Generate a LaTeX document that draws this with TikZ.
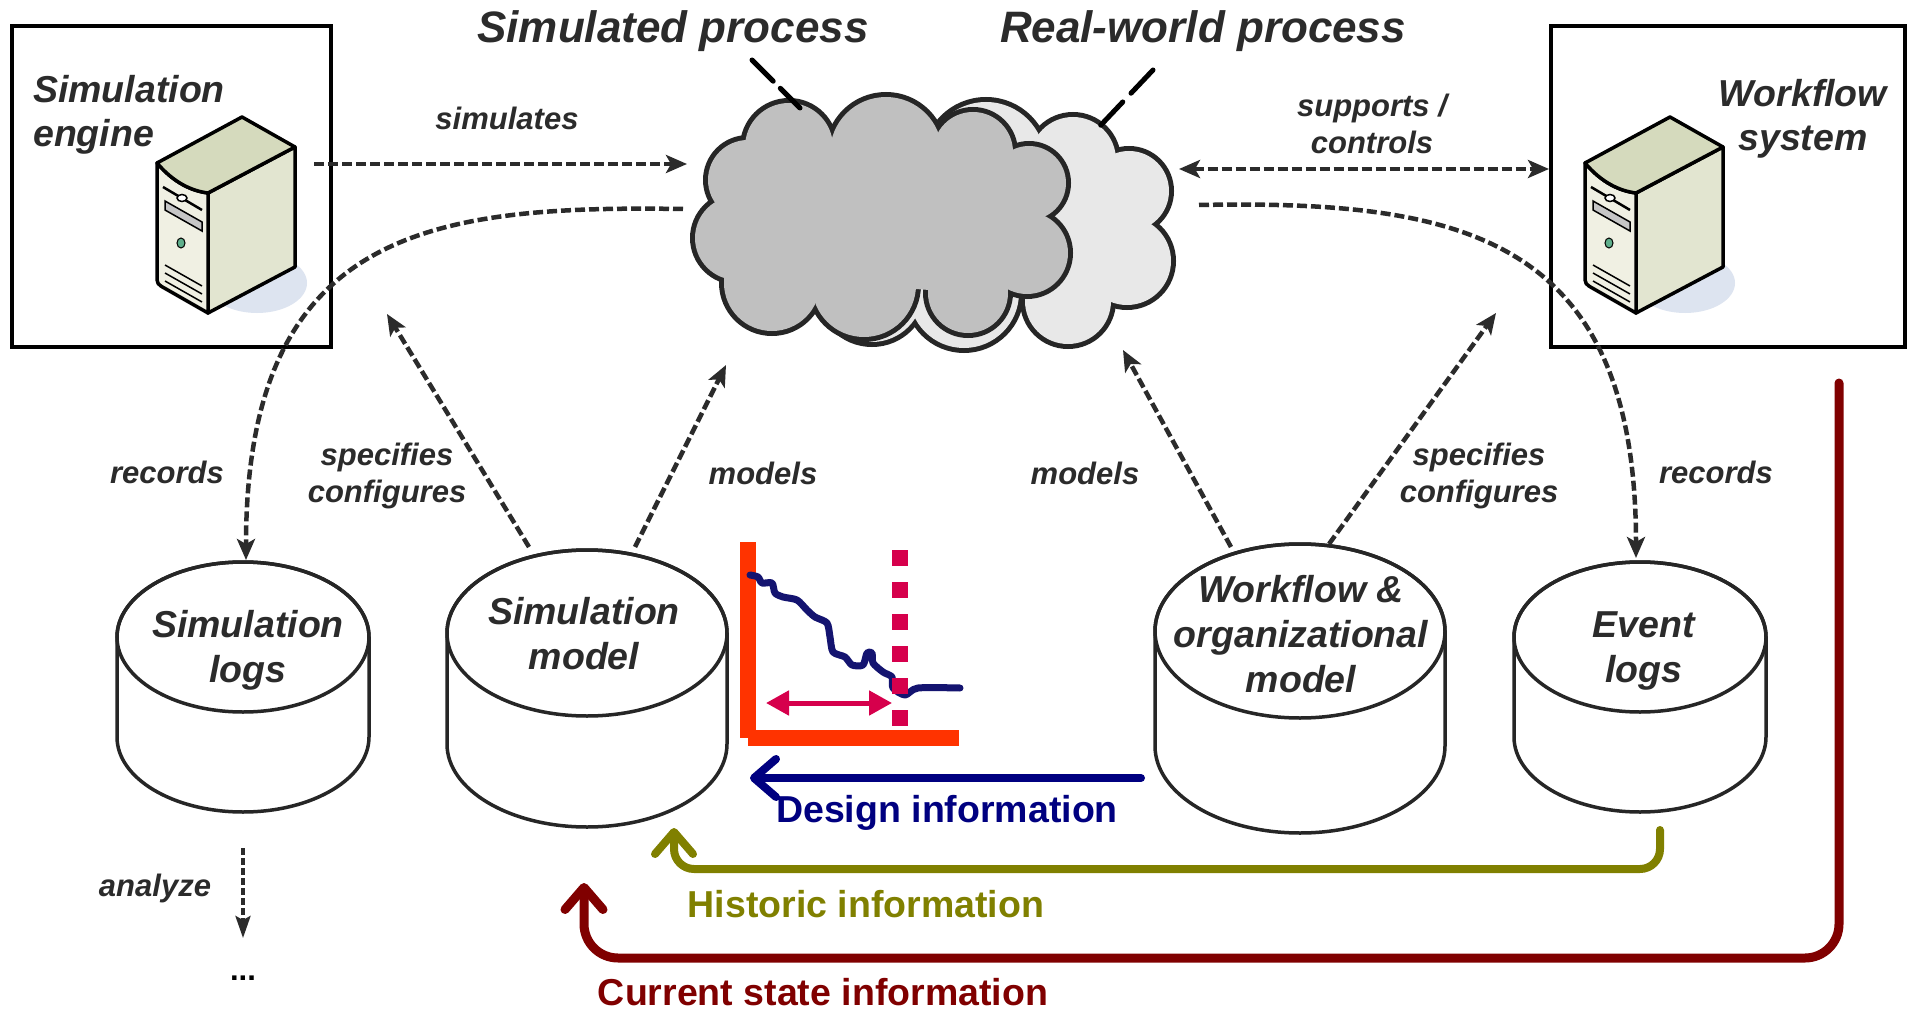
\documentclass[tikz,border=0pt]{standalone}
\usepackage{fontspec}
\setmainfont{Liberation Sans}
\usetikzlibrary{arrows.meta}

\definecolor{ink}{HTML}{2B2B2B}
\definecolor{cloudline}{HTML}{262626}
\definecolor{cloudsim}{HTML}{C0C0C0}
\definecolor{cloudreal}{HTML}{E8E8E8}
\definecolor{designc}{HTML}{000080}
\definecolor{historyc}{HTML}{808000}
\definecolor{currentc}{HTML}{800000}
\definecolor{axisc}{HTML}{FF3300}
\definecolor{curvec}{HTML}{141470}
\definecolor{markc}{HTML}{D6004C}
\definecolor{srvtop}{HTML}{D5DABD}
\definecolor{srvfront}{HTML}{F0F0E3}
\definecolor{srvside}{HTML}{E2E5D0}
\definecolor{srvshadow}{HTML}{DDE4F0}

% puffs of the process cloud: centre x / centre y / radius
\newcommand{\cloudpuffs}{789/147/44,886/153/56,973/152/40,1029/183/37,1027/253/41,968/293/40,864/285/52,772/283/48,737/238/42,748/180/40}

% cloud as a union of circles: thick outline first, fills on top
\newcommand{\drawcloud}[2]{%
  \foreach \px/\py/\pr in \cloudpuffs {\draw[draw=cloudline, line width=10] (\px,\py) circle[radius=\pr+#2];}
  \foreach \px/\py/\pr in \cloudpuffs {\fill[#1] (\px,\py) circle[radius=\pr+#2];}
  \fill[#1] (789,147) -- (886,153) -- (973,152) -- (1029,183) -- (1027,253) -- (968,293)
    -- (864,285) -- (772,283) -- (737,238) -- (748,180) -- cycle;
}

% database cylinder: name, centre x, top y, x radius, y radius, bottom y
\newcommand{\dbcylinder}[6]{%
  \node[cylbox, minimum width={2*#4}, minimum height={#6-#3}] (#1) at (#2,{(#3+#6)/2}) {};
  \filldraw[cylline, fill=white] ({#2-#4},{#3+#5}) -- ({#2-#4},{#6-#5})
    arc[start angle=180, end angle=0, x radius=#4, y radius=#5] -- ({#2+#4},{#3+#5})
    arc[start angle=0, end angle=-180, x radius=#4, y radius=#5] -- cycle;
  \draw[cylline] (#2,{#3+#5}) ellipse[x radius=#4, y radius=#5];
}

\tikzset{
  server/.pic={
    \fill[srvshadow] (15,166) ellipse[x radius=50, y radius=30];
    \filldraw[srvline, fill=srvside] (-34,76) -- (53,30) -- (53,150) -- (-34,196) -- cycle;
    \filldraw[srvline, fill=srvfront] (-85,46) .. controls (-68,66) and (-50,74) .. (-34,76)
      -- (-34,196) -- (-76,172) .. controls (-85,167) .. (-85,158) -- cycle;
    \filldraw[srvline, fill=srvtop] (0,0) -- (-85,46) .. controls (-68,66) and (-50,74) .. (-34,76)
      -- (53,30) -- cycle;
    \draw[line width=2.5] (-79,70) -- (-40,93);
    \filldraw[fill=white, line width=1.5] (-60,81) ellipse[x radius=5, y radius=3.5];
    \filldraw[fill=gray!45, line width=1.5] (-77,84) -- (-40,105) -- (-40,114) -- (-77,93) -- cycle;
    \filldraw[fill={rgb,255:red,95;green,175;blue,140}, line width=1] (-61,126) ellipse[x radius=4, y radius=5];
    \draw[line width=1.5] (-77,148) -- (-40,169) (-77,156) -- (-40,177) (-77,164) -- (-40,185);
  }
}

\begin{document}
\begin{tikzpicture}[x=1pt, y=-1pt,
  srvline/.style={draw=black, line width=3.5, line join=round},
  sysbox/.style={draw=black, line width=4.5, inner sep=0},
  cylbox/.style={inner sep=0},
  cylline/.style={draw=cloudline, line width=3.5},
  leader/.style={draw=black, line width=5, line cap=round},
  flow/.style={draw=ink, line width=4.5, dash pattern=on 10pt off 4pt,
    -{Stealth[length=21pt, width=18pt, inset=5pt]}},
  twoway/.style={flow, {Stealth[length=21pt, width=18pt, inset=5pt]}-{Stealth[length=21pt, width=18pt, inset=5pt]}},
  thinflow/.style={draw=ink, line width=3.5, dash pattern=on 7pt off 3pt,
    -{Stealth[length=22pt, width=15pt, inset=4pt]}},
  infoflow/.style={line width=8, line cap=round, line join=round, rounded corners=20,
    -{Straight Barb[round, length=22pt, width=38pt]}},
  toplbl/.style={font=\fontsize{44}{52}\selectfont\bfseries\itshape, text=ink, inner sep=0, anchor=base},
  boxlbl/.style={font=\fontsize{37.5}{44}\selectfont\bfseries\itshape, text=ink, inner sep=0},
  dblbl/.style={font=\fontsize{37.5}{45}\selectfont\bfseries\itshape, text=ink, inner sep=0, anchor=base, align=center},
  edgelbl/.style={font=\fontsize{31}{37}\selectfont\bfseries\itshape, text=ink, inner sep=0, anchor=base, align=center},
  infolbl/.style={font=\fontsize{37.5}{45}\selectfont\bfseries, inner sep=0, anchor=base}
]
\useasboundingbox (0,0) rectangle (1907,1011);
\fill[white] (0,0) rectangle (1907,1011);

% systems
\node[sysbox, minimum width=319, minimum height=321] (simengine) at (171.5,186.5) {};
\node[sysbox, minimum width=354, minimum height=321] (wfsystem) at (1728,186.5) {};
\pic at (242,117) {server};
\pic at (1670,117) {server};
% multi-line labels are placed by the baseline of their last line
\node[boxlbl, anchor=base west, align=left] (enginelbl) at (33,147) {Simulation\\engine};
\node[boxlbl, anchor=base, align=center] (wfslbl) at (1803,151) {Workflow\\system};

% processes
\begin{scope}[shift={(100,8)}]
  \drawcloud{cloudreal}{3}
\end{scope}
\drawcloud{cloudsim}{0}

\node[toplbl] (simproc) at (673,43) {Simulated process};
\node[toplbl] (realproc) at (1203,43) {Real-world process};
\coordinate (simLeadA) at (752,60);
\coordinate (simLeadB) at (800,108);
\coordinate (realLeadA) at (1153,70);
\coordinate (realLeadB) at (1100,126);
\draw[leader, dash pattern=on 30pt off 10pt] (simLeadA) -- (simLeadB);
\draw[leader, dash pattern=on 32pt off 12pt] (realLeadA) -- (realLeadB);

% repositories
\dbcylinder{simlogs}{243}{562}{126}{75}{812}
\dbcylinder{simmodel}{587}{550}{140}{83}{827}
\dbcylinder{wfmodel}{1300}{544}{145}{87}{833}
\dbcylinder{eventlogs}{1640}{562}{126}{75}{812}

\node[dblbl] (simlogslbl) at (248,682) {Simulation\\logs};
\node[dblbl] (simmodellbl) at (584,669) {Simulation\\model};
\node[dblbl] (wfmodellbl) at (1301,692) {Workflow \&\\organizational\\model};
\node[dblbl] (eventlogslbl) at (1644,682) {Event\\logs};

% connector end points
\coordinate (engOut) at (314,164);
\coordinate (cloudSimIn) at (687,164);
\coordinate (cloudSimOut) at (683,209);
\coordinate (cloudRealIn) at (1179,169);
\coordinate (wfsIn) at (1549,169);
\coordinate (cloudRealOut) at (1199,205);
\coordinate (engSpec) at (387,314);
\coordinate (cloudModL) at (726,365);
\coordinate (cloudModR) at (1123,350);
\coordinate (wfsSpec) at (1496,313);
\coordinate (smSpec) at (529,547);
\coordinate (smMod) at (635,547);
\coordinate (wmMod) at (1231,547);
\coordinate (wmSpec) at (1329,544);
\coordinate (slRec) at (246,560);
\coordinate (elRec) at (1636,558);

\draw[flow] (engOut) -- (cloudSimIn);
\draw[twoway] (cloudRealIn) -- (wfsIn);
\draw[flow] (cloudSimOut) .. controls (430,205) and (246,230) .. (slRec);
\draw[flow] (cloudRealOut) .. controls (1460,200) and (1636,235) .. (elRec);
\draw[flow] (smSpec) -- (engSpec);
\draw[flow] (smMod) -- (cloudModL);
\draw[flow] (wmMod) -- (cloudModR);
\draw[flow] (wmSpec) -- (wfsSpec);

\node[edgelbl] (simlbl) at (507,130) {simulates};
\node[edgelbl] (suplbl) at (1372,154) {supports /\\controls};
\node[edgelbl] (reclblL) at (167,483) {records};
\node[edgelbl] (reclblR) at (1716,483) {records};
\node[edgelbl] (speclblL) at (387,502) {specifies\\configures};
\node[edgelbl] (speclblR) at (1479,502) {specifies\\configures};
\node[edgelbl] (modlblL) at (763,484) {models};
\node[edgelbl] (modlblR) at (1085,484) {models};

% analysis of the simulation logs
\coordinate (anaStart) at (243,848);
\coordinate (anaEnd) at (243,938);
\draw[thinflow] (anaStart) -- (anaEnd);
\node[edgelbl] (analbl) at (155,896) {analyze};
\node[font=\fontsize{31}{37}\selectfont\bfseries, text=black, inner sep=0, anchor=base] (more) at (243,980) {...};

% performance chart
\fill[axisc] (740,542) rectangle (756,738);
\fill[axisc] (748,730) rectangle (959,746);
\draw[curvec, line width=7, line cap=round, line join=round] plot[smooth, tension=0.45] coordinates {
  (750,575) (758,577) (762,583) (772,583) (775,593) (783,597) (797,600) (807,610)
  (815,617) (827,623) (830,637) (833,652) (845,657) (852,665) (863,665) (867,653)
  (872,653) (873,663) (883,672) (892,677) (893,688) (905,695) (918,688) (960,688)};
\draw[markc, line width=16, dash pattern=on 16pt off 16pt] (900,550) -- (900,726);
\draw[markc, line width=5, {Triangle[length=23pt, width=24pt]}-{Triangle[length=23pt, width=24pt]}] (766,703) -- (892,703);

% information flows into the simulation model
\coordinate (wmDesign) at (1141,778);
\coordinate (smDesign) at (750,778);
\coordinate (elHist) at (1660,830);
\coordinate (smHist) at (674,828);
\coordinate (wfsCur) at (1839,383);
\coordinate (smCur) at (584,883);
\draw[infoflow, draw=designc] (wmDesign) -- (smDesign);
\draw[infoflow, draw=historyc] (elHist) -- ++(0,39) -| (smHist);
\draw[infoflow, draw=currentc, line width=9, rounded corners=34] (wfsCur) -- ++(0,575) -| (smCur);

\node[infolbl, text=designc] (designlbl) at (947,822) {Design information};
\node[infolbl, text=historyc] (histlbl) at (866,917) {Historic information};
\node[infolbl, text=currentc] (curlbl) at (823,1005) {Current state information};
\end{tikzpicture}
\end{document}
